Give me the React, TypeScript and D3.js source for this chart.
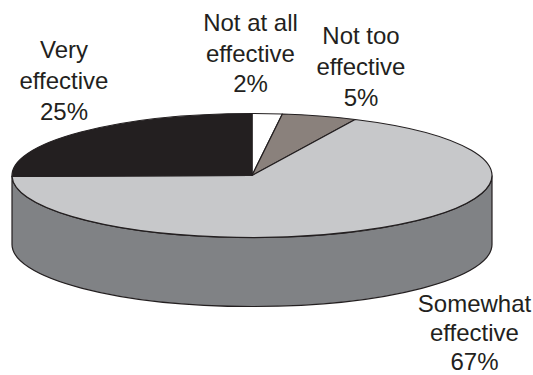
import React from "react";
import * as d3 from "d3";

const categories = ["Not at all effective", "Not too effective", "Somewhat effective", "Very effective"];
const values = [2, 5, 67, 25];
const fills = ["#ffffff", "#8a817c", "#c7c8ca", "#231f20"];
const labelLines = [
  ["Not at all", "effective", "2%"],
  ["Not too", "effective", "5%"],
  ["Somewhat", "effective", "67%"],
  ["Very", "effective", "25%"],
];
const labelAnchors: [number, number][] = [
  [250.5, 31],
  [361, 44],
  [474.5, 311.5],
  [64, 58],
];
const labelLeading = [30.5, 31, 29, 31];

const WIDTH = 533;
const HEIGHT = 375;
const CX = 252;
const CY = 175.5;
const RX = 240;
const RY = 62;
const DEPTH = 69;

export default function App() {
  const slices = d3.pie<number>().sort(null)(values);
  const arc = d3.arc<d3.PieArcDatum<number>>().innerRadius(0).outerRadius(RX);
  const wall = `M${CX - RX},${CY}V${CY + DEPTH}A${RX},${RY} 0 0 0 ${CX + RX},${CY + DEPTH}V${CY}A${RX},${RY} 0 0 1 ${CX - RX},${CY}Z`;

  return (
    <svg
      width={WIDTH}
      height={HEIGHT}
      viewBox={`0 0 ${WIDTH} ${HEIGHT}`}
      style={{ position: "absolute", left: 0, top: 0, background: "#fff" }}
    >
      <path d={wall} fill="#808285" stroke="#231f20" strokeWidth={1.2} />
      <g transform={`translate(${CX},${CY}) scale(1,${RY / RX})`}>
        {slices.map((s, i) => (
          <path
            key={categories[i]}
            d={arc(s) ?? ""}
            fill={fills[i]}
            stroke="#231f20"
            strokeWidth={1.2}
            strokeLinejoin="round"
            vectorEffect="non-scaling-stroke"
          />
        ))}
      </g>
      <g fontFamily="'Liberation Sans', Arial, sans-serif" fontSize={24} fill="#231f20" textAnchor="middle">
        {labelLines.map((lines, i) => (
          <text key={categories[i]} x={labelAnchors[i][0]} y={labelAnchors[i][1]}>
            {lines.map((line, j) => (
              <tspan key={j} x={labelAnchors[i][0]} y={labelAnchors[i][1] + j * labelLeading[i]}>
                {line}
              </tspan>
            ))}
          </text>
        ))}
      </g>
    </svg>
  );
}
